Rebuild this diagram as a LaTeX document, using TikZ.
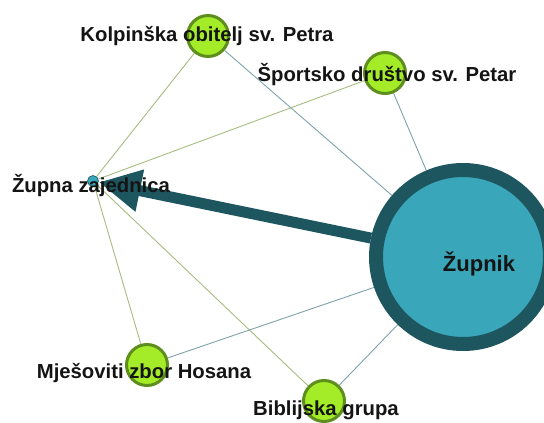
\documentclass[tikz,border=0pt]{standalone}
\usepackage{fontspec}
\setmainfont{Liberation Sans}
\usetikzlibrary{arrows.meta,backgrounds}
\definecolor{gfill}{HTML}{A3EC27}
\definecolor{gdraw}{HTML}{5E8E1E}
\definecolor{tfill}{HTML}{3AA6B9}
\definecolor{tdraw}{HTML}{1E5660}
\definecolor{oedge}{HTML}{A8BC80}
\definecolor{bedge}{HTML}{7FA2AC}
\tikzset{
  gnode/.style={circle,fill=gfill,draw=gdraw,line width=3pt,minimum size=41pt,inner sep=0pt},
  bignode/.style={circle,fill=tfill,draw=tdraw,line width=14pt,minimum size=174pt,inner sep=0pt},
  smallnode/.style={circle,fill=tfill,draw=tdraw,line width=0.6pt,minimum size=11pt,inner sep=0pt},
  lbl/.style={font=\fontsize{20.3}{21}\selectfont\bfseries,text=black!92,inner sep=0pt},
  oline/.style={draw=oedge,line width=0.9pt},
  bline/.style={draw=bedge,line width=0.9pt},
  bigarrow/.style={draw=tdraw,line width=11pt,-{Triangle[length=42pt,width=40pt]}}
}
\begin{document}
\begin{tikzpicture}[x=1pt,y=-1pt]
\useasboundingbox (0,0) rectangle (544,423);
\node[bignode] (zupnik) at (463,257) {};
\node[gnode] (kolp) at (208,36) {};
\node[gnode] (sport) at (385,73) {};
\node[gnode] (mjes) at (147,365) {};
\node[gnode] (bibl) at (324,401) {};
\node[smallnode] (zupna) at (93,181) {};
\begin{scope}[on background layer]
\draw[oline] (kolp) -- (zupna);
\draw[oline] (sport) -- (zupna);
\draw[oline] (zupna) -- (mjes);
\draw[oline] (zupna) -- (bibl);
\draw[bline] (kolp) -- (zupnik);
\draw[bline] (sport) -- (zupnik);
\draw[bline] (mjes) -- (zupnik);
\draw[bline] (bibl) -- (zupnik);
\end{scope}
\draw[bigarrow] (zupnik) -- (zupna);
\node[lbl] (lkolp) at (207,36) {Kolpinška obitelj sv. Petra};
\node[lbl] (lsport) at (387,75) {Športsko društvo sv. Petar};
\node[lbl] (lzupna) at (91,186) {Župna zajednica};
\node[lbl] (lmjes) at (144,373) {Mješoviti zbor Hosana};
\node[lbl] (lbibl) at (326,410) {Biblijska grupa};
\node[lbl,font=\fontsize{22}{24}\selectfont\bfseries] (lzupnik) at (479,264) {Župnik};
\end{tikzpicture}
\end{document}
